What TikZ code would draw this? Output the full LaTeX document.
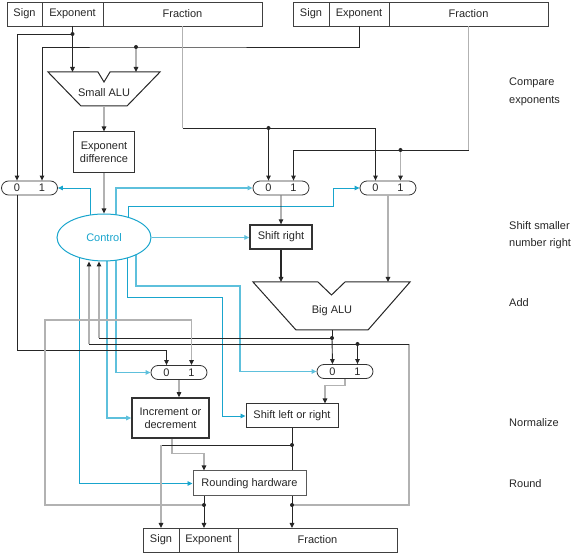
\documentclass[tikz,border=0pt]{standalone}
\usepackage{fontspec}
\setmainfont{Liberation Sans}
\usepackage{tikz}
\usetikzlibrary{positioning,calc,arrows.meta,shapes.geometric,shapes.misc,backgrounds}

\definecolor{ctlblue}{RGB}{25,165,205}
\definecolor{busgray}{RGB}{178,178,178}
\newcommand{\fpfont}{\fontsize{11}{13}\selectfont}
\newcommand{\stagefont}{\fontsize{11}{17.5}\selectfont}

\tikzset{
  fld/.style={draw=black!75, line width=0.9pt, minimum height=24pt, inner sep=0pt, outer sep=0pt, text=black!85, font=\fpfont},
  mux/.style={rounded rectangle, draw=black!80, line width=0.8pt, minimum width=56pt, minimum height=14pt, inner sep=0pt, text=black!85, font=\fpfont},
  unit/.style={draw=black!80, line width=1pt, inner sep=0pt, align=center, text=black!85, font=\fpfont},
  alu/.style={draw=black!85, line width=1pt},
  wire/.style={draw=black!85, line width=0.9pt},
  bus/.style={draw=busgray, line width=1.8pt, >={Triangle[length=5pt,width=4.5pt,color=black!85]}},
  ctl/.style={draw=ctlblue, line width=0.9pt},
  ctlw/.style={draw=ctlblue!70, line width=1.5pt},
  lbl/.style={anchor=west, align=left, inner sep=0pt, text=black!85, font=\stagefont},
}

\begin{document}
\begin{tikzpicture}[x=1pt, y=-1pt, >={Triangle[length=5pt,width=4.5pt]}]
\useasboundingbox (0,0) rectangle (574,553);

% operand registers
\node[fld, minimum width=35pt] (sA) at (24.5,14) {Sign};
\node[fld, minimum width=61pt, right=0pt of sA] (eA) {Exponent};
\node[fld, minimum width=159pt, right=0pt of eA] (fA) {Fraction};
\node[fld, minimum width=36pt] (sB) at (311,14) {Sign};
\node[fld, minimum width=60pt, right=0pt of sB] (eB) {Exponent};
\node[fld, minimum width=159pt, right=0pt of eB] (fB) {Fraction};

% result register
\node[fld, minimum width=36pt] (sC) at (161,540) {Sign};
\node[fld, minimum width=59pt, right=0pt of sC] (eC) {Exponent};
\node[fld, minimum width=159pt, right=0pt of eC] (fC) {Fraction};

% small ALU
\draw[alu] (48,72) -- (98,72) -- (104,82) -- (110,72) -- (160,72) -- (127,106) -- (81,106) -- cycle;
\node[font=\fpfont, text=black!85] (sALU) at (104,93) {Small ALU};
\coordinate (sALUa) at (72.5,72);
\coordinate (sALUb) at (136,72);
\coordinate (sALUo) at (104,106);

\node[unit, minimum width=61pt, minimum height=41pt] (xdiff) at (104,152.5) {Exponent\\difference};

\node[ellipse, draw=ctlblue, line width=1pt, fill=white, minimum width=94pt, minimum height=47pt,
  inner sep=0pt, text=ctlblue, font=\fpfont] (ctrl) at (104,237.5) {Control};

% multiplexors
\node[mux] (m0) at (29.5,188) {0\hspace{19pt}1};
\node[mux] (m1) at (281,188) {0\hspace{19pt}1};
\node[mux] (m2) at (388,188) {0\hspace{19pt}1};
\node[mux] (m3) at (345,371.5) {0\hspace{19pt}1};
\node[mux] (m4) at (179,372.5) {0\hspace{19pt}1};
\foreach \m in {m0,m1,m2,m3,m4} {
  \coordinate (\m a) at ([xshift=-12.5pt]\m.north);
  \coordinate (\m b) at ([xshift=12.5pt]\m.north);
}

\node[unit, line width=1.3pt, minimum width=62pt, minimum height=24pt] (shr) at (281,237) {Shift right};

% big ALU
\draw[alu] (253,282) -- (318,282) -- (331.5,295) -- (345,282) -- (410,282) -- (368,330) -- (296,330) -- cycle;
\node[font=\fpfont, text=black!85] (bALU) at (332,311) {Big ALU};
\coordinate (bALUtop) at (332,282);
\coordinate (bALUo) at (332,330);

\node[unit, minimum width=92pt, minimum height=24pt] (shl) at (292,416) {Shift left or right};
\node[unit, line width=1.6pt, minimum width=77pt, minimum height=40pt] (inc) at (170.5,418) {Increment or\\decrement};
\node[unit, draw=black!65, minimum width=113pt, minimum height=25pt] (rnd) at (249.5,483.5) {Rounding hardware};

% junctions
\coordinate[below=8pt of eA.south] (jA);
\coordinate (jB) at (136,47);
\coordinate (jC) at (268.5,128);
\coordinate (jD) at (400.5,150);
\coordinate (jE) at (332,338);
\coordinate (loopR) at (409,344);
\coordinate (jF) at (m3b |- loopR);
\coordinate (jG) at (292,445);
\coordinate (jH) at (204,505);
\coordinate (jI) at (292,505);
\coordinate (loopL) at (45,320);
\coordinate (cIn1) at ([xshift=-5pt]ctrl.south);
\coordinate (cIn2) at ([xshift=-15pt]ctrl.south);

% exponents
\draw[wire] (eA.south) -- (jA);
\draw[wire,->] (jA) -| (m0a);
\draw[wire,->] (jA) -- (sALUa);
\draw[wire,->] (eB.south) |- (jB) -| (m0b);
\draw[bus,->] (jB) -- (sALUb);
\draw[bus,->] (sALUo) -- (xdiff);
\draw[bus,->] (xdiff) -- (ctrl);

% fractions
\draw[bus] (fA.south) -- (fA.south |- jC) coordinate (kA);
\draw[wire,->] (kA) -| (m2a);
\draw[wire,->] (jC) -- (jC |- m1.north);
\draw[bus] (fB.south) -- (fB.south |- jD) coordinate (kB);
\draw[wire,->] (kB) -| (m1b);
\draw[bus,->] (jD) -- (jD |- m2.north);

% shift and add
\draw[wire,->] (m1) -- (shr);
\draw[wire,line width=1.2pt,->] (shr) -- (shr |- bALUtop);
\draw[bus,->] (m2) -- (m2 |- bALUtop);
\draw[wire,->] ([xshift=-12.5pt]m0.south) |- ([yshift=15pt]m4a) -- (m4a);

% normalize
\draw[wire] (bALUo) -- (jE);
\draw[wire,->] (jE) -- (m3a);
\draw[wire] (jE) -- (jE -| cIn1) coordinate (kE);
\draw[bus,->] (kE) -- (cIn1);
\draw[bus] (jI) -| (loopR);
\draw[wire] (loopR) -- (loopR -| cIn2) coordinate (kF);
\draw[bus,->] (kF) -- (cIn2);
\draw[wire,->] (jF) -- (m3b);
\draw[bus,->] (jH) -| (loopL) -| (m4b);
\draw[bus,line width=1.2pt,->] (m3.south) -- ++(0,7) -| ([xshift=33pt]shl.north);
\draw[wire,->] (m4) -- (m4 |- inc.north);

% round
\draw[bus,line width=1.2pt,->] ([xshift=1.5pt]inc.south) -- ++(0,15) -| (rnd.north -| jH);
\draw[wire] (shl) -- (rnd.north -| shl);
\draw[wire] (jG) -- (jG -| sC) coordinate (kG);
\draw[bus,->] (kG) -- (sC);
\draw[wire,->] (rnd.south -| jH) -- (eC.north -| jH);
\draw[wire,->] (rnd.south -| jI) -- (fC.north -| jI);

% control signals
\begin{scope}[on background layer]
\draw[ctl,->] ([xshift=-14pt]ctrl.center) |- (m0.east);
\draw[ctlw,->] ([xshift=12pt]ctrl.center) |- (m1.west);
\draw[ctl,->] ([xshift=24pt]ctrl.center) |- (333,206) |- (m2.west);
\draw[ctlw,->] (ctrl.east) -- (ctrl.east -| shr.west);
\draw[ctl,->] ([xshift=-25pt]ctrl.center) |- (rnd.west);
\draw[ctlw,->] ([xshift=3pt]ctrl.center) |- (inc.west);
\draw[ctlw,->] ([xshift=12pt]ctrl.center) |- (m4.west);
\draw[ctl,->] ([xshift=23pt]ctrl.center) |- (222,297) |- (shl.west);
\draw[ctlw,->] ([xshift=32pt]ctrl.center) |- (240,286) |- (m3.west);
\end{scope}

\foreach \j in {jA,jB,jC,jD,jE,jF,jG,jH,jI}
  \fill[black!85] (\j) circle (2pt);

% stage labels
\node[lbl] (stage1) at (509,92) {Compare\\exponents};
\node[lbl] (stage2) at (509,235) {Shift smaller\\number right};
\node[lbl] (stage3) at (509,303) {Add};
\node[lbl] (stage4) at (509,423) {Normalize};
\node[lbl] (stage5) at (509,484) {Round};
\end{tikzpicture}
\end{document}
